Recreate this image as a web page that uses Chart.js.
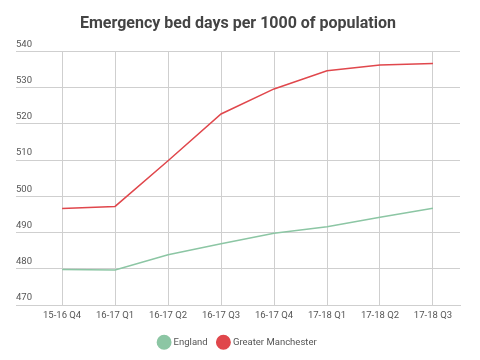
<!DOCTYPE html>
<html>
<head>
<meta charset="utf-8">
<script src="https://cdn.jsdelivr.net/npm/chart.js@4/dist/chart.umd.min.js"></script>
<style>
  html, body { margin: 0; padding: 0; background: #fff; }
  #wrap { width: 480px; height: 360px; }
</style>
</head>
<body>
<div id="wrap"><canvas id="bed-chart" width="480" height="360"></canvas></div>
<script>
// quarters on the x axis
const quarters = ['15-16 Q4', '16-17 Q1', '16-17 Q2', '16-17 Q3', '16-17 Q4', '17-18 Q1', '17-18 Q2', '17-18 Q3'];
// emergency bed days per 1000 population
const england = [479.8, 479.7, 483.9, 486.9, 489.8, 491.6, 494.2, 496.7];
const greaterManchester = [496.6, 497.2, 509.8, 522.7, 529.6, 534.6, 536.2, 536.6];
const yTicks = [470, 480, 490, 500, 510, 520, 530, 540];

function toPoints(values) {
    return values.map((v, i) => ({ x: i, y: v }));
}

const gridColor = '#cfcfcf';
const textColor = '#555';

new Chart(document.getElementById('bed-chart'), {
    type: 'line',
    data: {
        datasets: [
            {
                label: 'England',
                data: toPoints(england),
                borderColor: '#8cc6a4',
                backgroundColor: '#8cc6a4',
                borderWidth: 1.5,
                pointRadius: 0,
                tension: 0
            },
            {
                label: 'Greater Manchester',
                data: toPoints(greaterManchester),
                borderColor: '#e0474c',
                backgroundColor: '#e0474c',
                borderWidth: 1.5,
                pointRadius: 0,
                tension: 0
            }
        ]
    },
    options: {
        responsive: false,
        animation: false,
        layout: { padding: { left: 16, right: 20, top: 8, bottom: 3 } },
        plugins: {
            title: {
                display: true,
                text: 'Emergency bed days per 1000 of population',
                color: '#444',
                font: { family: 'Roboto', size: 16, weight: 'bold' },
                padding: { top: 6, bottom: 18 }
            },
            legend: {
                position: 'bottom',
                labels: {
                    usePointStyle: true,
                    pointStyle: 'circle',
                    boxWidth: 10,
                    boxHeight: 10,
                    padding: 11,
                    color: textColor,
                    font: { family: 'Roboto', size: 9.5 }
                }
            },
            tooltip: { enabled: false }
        },
        scales: {
            x: {
                type: 'linear',
                min: -0.87,
                max: 7.51,
                grid: { color: gridColor, drawTicks: false },
                border: { display: true, color: gridColor },
                ticks: {
                    stepSize: 1,
                    includeBounds: false,
                    autoSkip: false,
                    maxRotation: 0,
                    padding: 5,
                    color: textColor,
                    font: { family: 'Roboto', size: 9.5 },
                    callback: v => quarters[v]
                }
            },
            y: {
                min: yTicks[0],
                max: yTicks[yTicks.length - 1],
                grid: { color: gridColor, drawTicks: false },
                border: { display: false },
                ticks: {
                    stepSize: 10,
                    mirror: true,
                    padding: 0,
                    labelOffset: -7,
                    color: textColor,
                    font: { family: 'Roboto', size: 9.5 }
                }
            }
        }
    }
});
</script>
</body>
</html>
